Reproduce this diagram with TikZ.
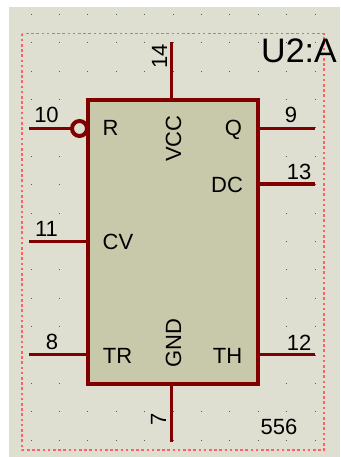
\documentclass[tikz,border=0pt]{standalone}
\usepackage{fontspec}
\setmainfont{Liberation Sans}
\definecolor{sheet}{HTML}{DFDFD1}
\definecolor{chip}{HTML}{C8C8AB}
\definecolor{wire}{HTML}{800000}
\definecolor{frame}{HTML}{FF6060}
\tikzset{
  wirepin/.style={draw=wire,line width=3.4pt},
  lbl/.style={anchor=base,inner sep=0pt,font=\fontsize{22}{22}\selectfont,text=black},
  vlbl/.style={lbl,rotate=90},
  griddot/.style={fill=black!65,draw=none}
}
\begin{document}
\begin{tikzpicture}[x=1pt,y=-1pt]
\useasboundingbox (0,0) rectangle (340,457);
\fill[sheet] (9,7) rectangle (340,457);
\foreach \i in {0,...,10}{
  \foreach \j in {0,...,15}{
    \fill[griddot] ({31+28.4*\i-0.5},{14.3+28.4*\j-0.5}) rectangle ++(1,1);
  }
}
\draw[frame,line width=1.4pt,dash pattern=on 2.6pt off 2.6pt] (22,33.7) rectangle (324,450);
% pin free ends
\coordinate (p10) at (29,128.5);
\coordinate (p11) at (29,241.7);
\coordinate (p8) at (29,354.7);
\coordinate (p9) at (315,128.5);
\coordinate (p13) at (315,184);
\coordinate (p12) at (315,354.7);
\coordinate (p14) at (171.5,42);
\coordinate (p7) at (171.5,442);
% chip
\node[draw=wire,fill=chip,line width=4pt,inner sep=0pt,outer sep=0pt,minimum width=170pt,minimum height=283.5pt,anchor=north west] (chip) at (87.5,100) {};
% connectors
\node[circle,draw=wire,fill=sheet,line width=4pt,outer sep=0pt,minimum size=15pt,inner sep=0pt] (inv) at (79.5,128.5) {};
\draw[wirepin] (p10) -- (inv.west);
\draw[wirepin] (p11) -- (p11 -| chip.west);
\draw[wirepin] (p8) -- (p8 -| chip.west);
\draw[wirepin] (p9) -- (p9 -| chip.east);
\draw[wirepin] (p13) -- (p13 -| chip.east);
\draw[wirepin] (p12) -- (p12 -| chip.east);
\draw[wirepin] (p14) -- (p14 |- chip.north);
\draw[wirepin] (p7) -- (p7 |- chip.south);
% pin numbers
\node[lbl] (n10) at (46.5,123) {10};
\node[lbl] (n11) at (46.5,236) {11};
\node[lbl] (n8) at (52,349) {8};
\node[lbl] (n9) at (291,123) {9};
\node[lbl] (n13) at (299,179) {13};
\node[lbl] (n12) at (299,350) {12};
\node[vlbl] (n14) at (167,56) {14};
\node[vlbl] (n7) at (166,419) {7};
% pin names
\node[lbl] (tR) at (110.5,136) {R};
\node[lbl] (tCV) at (118,249) {CV};
\node[lbl] (tTR) at (117.5,363) {TR};
\node[lbl] (tQ) at (233.5,136) {Q};
\node[lbl] (tDC) at (227,192) {DC};
\node[lbl] (tTH) at (227.5,363) {TH};
\node[vlbl] (tVCC) at (181,138.5) {VCC};
\node[vlbl] (tGND) at (181,343) {GND};
% part labels
\node[lbl,font=\fontsize{34}{34}\selectfont] (u2) at (299,63) {U2:A};
\node[lbl] (part) at (279,434) {556};
\end{tikzpicture}
\end{document}
